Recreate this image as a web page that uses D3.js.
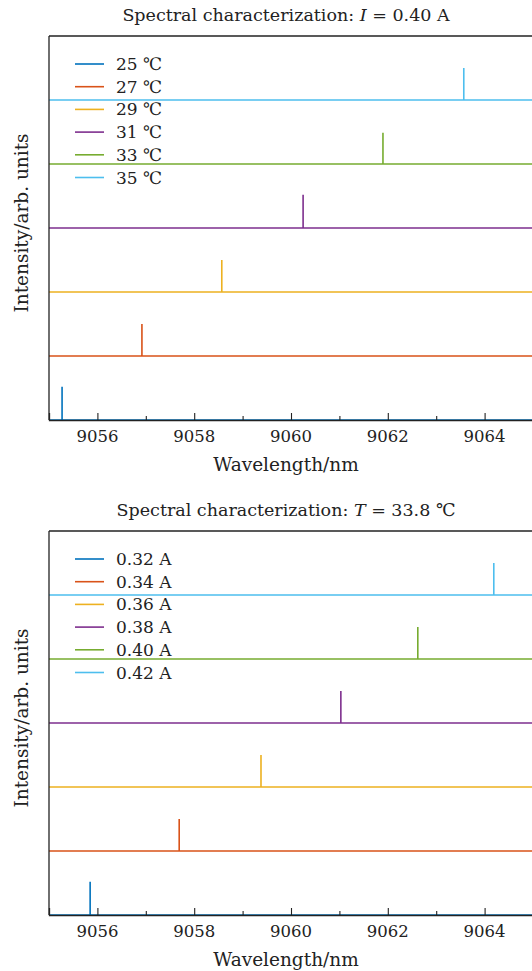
<!DOCTYPE html>
<html>
<head>
<meta charset="utf-8">
<script src="https://cdn.jsdelivr.net/npm/d3@7"></script>
<style>
  body { margin: 0; background: #fff; }
  svg text { font-family: "DejaVu Serif", "Liberation Serif", serif; fill: #222; }
</style>
</head>
<body>
<script>
// tick values on the wavelength axis
var majorTicks = [9056, 9058, 9060, 9062, 9064];
var minorTicks = [9057, 9059, 9061, 9063, 9065];

// top panel: temperature sweep at I = 0.40 A
var tempLabels = ['25 ℃', '27 ℃', '29 ℃', '31 ℃', '33 ℃', '35 ℃'];
var tempPeaks = [9055.27, 9056.92, 9058.57, 9060.25, 9061.90, 9063.57];
var tempHeights = [0.52, 0.50, 0.50, 0.52, 0.49, 0.50];

// bottom panel: current sweep at T = 33.8 ℃
var currLabels = ['0.32 A', '0.34 A', '0.36 A', '0.38 A', '0.40 A', '0.42 A'];
var currPeaks = [9055.85, 9057.69, 9059.38, 9061.03, 9062.62, 9064.19];
var currHeights = [0.52, 0.50, 0.50, 0.50, 0.50, 0.50];

var colors = ['#0072BD', '#D95319', '#EDB120', '#7E2F8E', '#77AC30', '#4DBEEE'];

var W = 532, H = 971;
var svg = d3.select('body').append('svg')
  .attr('width', W)
  .attr('height', H);

var x = d3.scaleLinear().domain([9055, 9066]).range([49, 49 + 48.4 * 11]);

var panels = [
  {top: 36, bottom: 420, title: ['Spectral characterization: ', 'I', ' = 0.40 A'],
   labels: tempLabels, peaks: tempPeaks, heights: tempHeights, legendY: 64},
  {top: 531, bottom: 915, title: ['Spectral characterization: ', 'T', ' = 33.8 ℃'],
   labels: currLabels, peaks: currPeaks, heights: currHeights, legendY: 559}
];

panels.forEach(function(p){
  var g = svg.append('g');
  var y = d3.scaleLinear().domain([0, 6]).range([p.bottom, p.top]);

  // title
  var t = g.append('text')
    .attr('x', 286)
    .attr('y', p.top - 15)
    .attr('text-anchor', 'middle')
    .style('font-size', '17.5px');
  t.append('tspan').text(p.title[0]);
  t.append('tspan').style('font-style', 'italic').text(p.title[1]);
  t.append('tspan').text(p.title[2]);

  // spectra: flat baseline, offset by index, with one narrow peak
  var line = d3.line()
    .x(function(d){ return x(d[0]); })
    .y(function(d){ return y(d[1]); });

  p.peaks.forEach(function(pk, i){
    var pts = [[9055, i], [pk, i], [pk, i + p.heights[i]], [pk, i], [9066, i]];
    g.append('path')
      .datum(pts)
      .attr('d', line)
      .attr('fill', 'none')
      .attr('stroke', colors[i])
      .attr('stroke-width', 1.6);
  });

  // frame (left + top, right side is cut off)
  g.append('line')
    .attr('x1', x(9055)).attr('x2', x(9055))
    .attr('y1', p.top).attr('y2', p.bottom)
    .attr('stroke', '#222').attr('stroke-width', 1.3);
  g.append('line')
    .attr('x1', x(9055)).attr('x2', x(9066))
    .attr('y1', p.top).attr('y2', p.top)
    .attr('stroke', '#222').attr('stroke-width', 1.3);

  // x axis, ticks pointing inward
  var axis = d3.axisTop(x)
    .tickValues(majorTicks)
    .tickSize(7)
    .tickFormat('');
  var ax = g.append('g')
    .attr('transform', 'translate(0,' + p.bottom + ')')
    .call(axis);
  ax.select('.domain').attr('stroke', '#222').attr('stroke-width', 1.3);
  ax.selectAll('.tick line').attr('stroke', '#222').attr('stroke-width', 1.1);

  var minor = g.append('g')
    .attr('transform', 'translate(0,' + p.bottom + ')')
    .call(d3.axisTop(x).tickValues(minorTicks).tickSize(4).tickFormat(''));
  minor.select('.domain').remove();
  minor.selectAll('.tick line').attr('stroke', '#222').attr('stroke-width', 1.1);

  g.selectAll('.ticklabel')
    .data(majorTicks)
    .enter()
    .append('text')
    .attr('x', function(d){ return x(d); })
    .attr('y', p.bottom + 22)
    .attr('text-anchor', 'middle')
    .style('font-size', '16.5px')
    .text(function(d){ return d; });

  g.append('text')
    .attr('x', 286)
    .attr('y', p.bottom + 51)
    .attr('text-anchor', 'middle')
    .style('font-size', '18.5px')
    .text('Wavelength/nm');

  var mid = (p.top + p.bottom) / 2 - 5;
  g.append('text')
    .attr('transform', 'translate(28,' + mid + ') rotate(-90)')
    .attr('text-anchor', 'middle')
    .style('font-size', '18.5px')
    .text('Intensity/arb. units');

  // legend
  var leg = g.selectAll('.leg')
    .data(p.labels)
    .enter()
    .append('g')
    .attr('transform', function(d, i){ return 'translate(0,' + (p.legendY + i * 22.7) + ')'; });
  leg.append('line')
    .attr('x1', 75).attr('x2', 104)
    .attr('stroke', function(d, i){ return colors[i]; })
    .attr('stroke-width', 1.6);
  leg.append('text')
    .attr('x', 116)
    .attr('y', 6)
    .style('font-size', '17px')
    .text(function(d){ return d; });
});
</script>
</body>
</html>
